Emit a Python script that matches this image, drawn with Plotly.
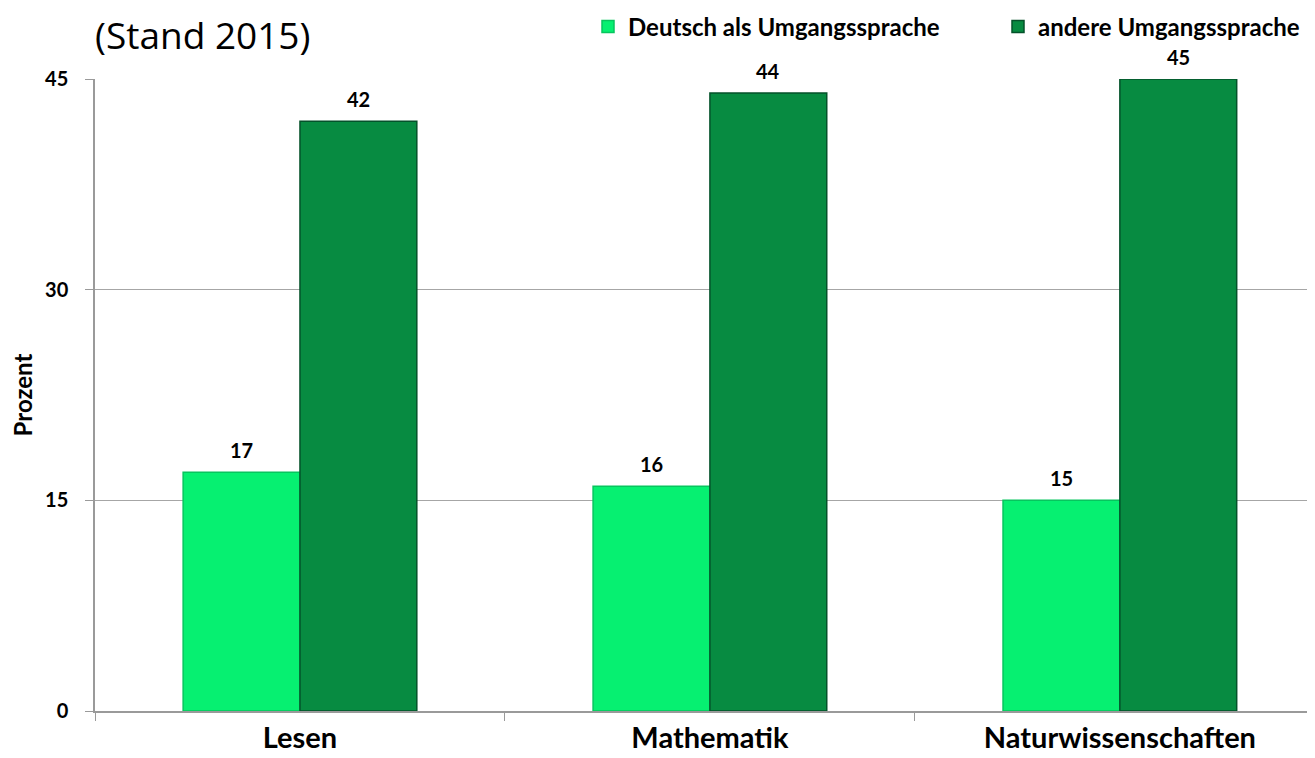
import plotly.graph_objects as go

categories = ["Lesen", "Mathematik", "Naturwissenschaften"]
deutsch = [17, 16, 15]
andere = [42, 44, 45]
series_names = ["Deutsch als Umgangssprache", "andere Umgangssprache"]
y_ticks = [0, 15, 30, 45]

FONT = "Lato"
W, H = 1307, 750  # page body has an 8px margin
BAR_W = 0.285

fig = go.Figure()
fig.add_trace(go.Bar(
    x=categories, y=deutsch, name=series_names[0],
    width=BAR_W, offset=-BAR_W,
    marker=dict(color="#06F071", line=dict(color="#07C55E", width=1.5)),
))
fig.add_trace(go.Bar(
    x=categories, y=andere, name=series_names[1],
    width=BAR_W, offset=0,
    marker=dict(color="#078B41", line=dict(color="#04522A", width=1.5)),
))

# value labels above the bars
for series, side in ((deutsch, -1), (andere, 1)):
    for i, v in enumerate(series):
        fig.add_annotation(
            x=i + side * BAR_W / 2, y=v, xref="x", yref="y",
            text=f"<b>{v}</b>", showarrow=False, yanchor="bottom", yshift=8,
            font=dict(family=FONT, size=20, color="black"),
        )

fig.update_layout(
    width=W, height=H,
    margin=dict(l=87, r=0, t=71, b=47),
    plot_bgcolor="white", paper_bgcolor="white",
    barmode="overlay",
    font=dict(family=FONT, color="black"),
    title=dict(text="(Stand 2015)", x=87 / W, xanchor="left",
               y=1 - 28 / H, yanchor="middle", yref="container",
               font=dict(family="Open Sans", size=37, color="black")),
    legend=dict(orientation="h", x=580 / W, xanchor="left", xref="container",
                y=1 - 19 / H, yanchor="middle", yref="container",
                font=dict(family=FONT, size=24, color="black", weight="bold"),
                itemwidth=30, entrywidth=365, entrywidthmode="pixels",
                traceorder="normal"),
    showlegend=True,
)
fig.update_xaxes(
    range=[-0.5, 2.476], showline=True, linecolor="#9A9A9A", linewidth=1.5,
    ticks="outside", tickson="boundaries", ticklen=8, tickcolor="#9A9A9A",
    tickfont=dict(family=FONT, size=29, color="black", weight="bold"),
    showgrid=False, automargin=False,
)
fig.update_yaxes(
    range=[0, 45], tickvals=y_ticks, showline=True, linecolor="#9A9A9A", linewidth=1.5,
    ticks="outside", ticklen=8, tickcolor="#9A9A9A", ticklabelstandoff=13,
    showgrid=True, gridcolor="#A6A6A6", gridwidth=1.2,
    tickfont=dict(family=FONT, size=20, color="black", weight="bold"),
    title=dict(text="Prozent", font=dict(family=FONT, size=24, color="black", weight="bold"),
               standoff=9),
    zeroline=False, automargin=False,
)

fig.write_html("out.html")
